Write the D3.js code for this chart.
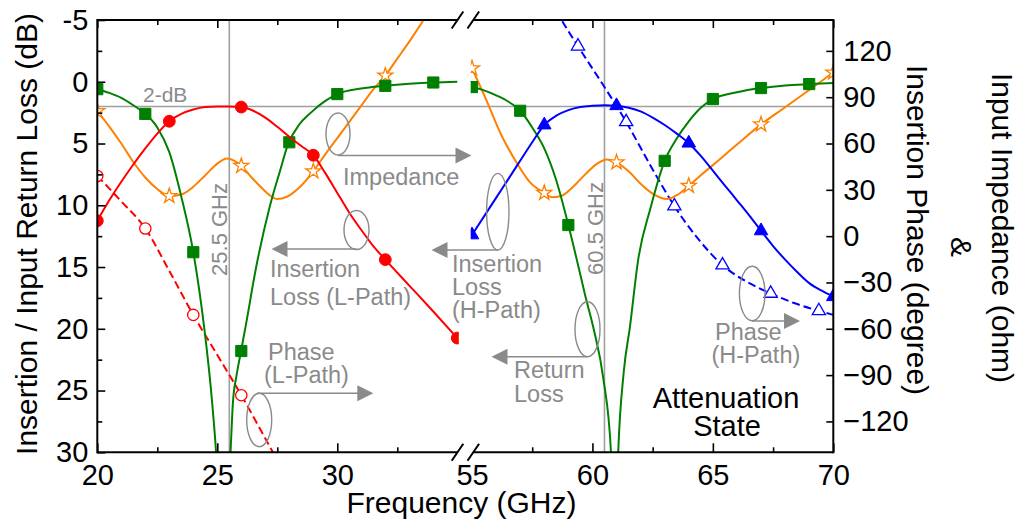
<!DOCTYPE html>
<html><head><meta charset="utf-8">
<script src="https://cdn.jsdelivr.net/npm/d3@7"></script>
<style>
body{margin:0;background:#fff}
svg{display:block}
text{font-family:"Liberation Sans",Arial,sans-serif}
</style>
</head><body>
<svg id="c" width="1018" height="527"></svg>
<script>
// ---------------- DATA ----------------
// Low band (20–35 GHz) — Return loss (dB, left axis)
const rlLoF = [20,20.5,21,21.5,22,22.5,23,23.5,24,24.46,24.74,24.95,25.1,25.25,25.4,25.55,25.65,25.8,25.95,26.2,26.6,27.2,27.6,27.95,28.4,28.9,29.5,30,31,32,33,34,35];
const rlLoV = [0.6,0.9,1.3,1.9,2.6,3.7,5.7,9.3,13.8,20,25,30,35,40,35,30,26,23.8,22.2,19.6,15.2,10,7.3,5.05,3.5,2.5,1.55,1.0,0.55,0.33,0.17,0.06,0.0];
const rlLoMkF = [20,22,24,26,28,30,32,34];
const rlLoMkV = [0.6,2.6,13.8,21.8,4.9,1.0,0.33,0.06];
// Low band — Insertion loss L-path (dB, left axis)
const ilLoF = [20,20.5,21,21.5,22,22.5,23,23.5,24,24.5,25,25.5,26,26.5,27,27.5,28,28.5,29,29.5,30,30.5,31,31.5,32,33,34,35];
const ilLoV = [11.25,9.6,8.1,6.7,5.4,4.2,3.2,2.6,2.25,2.05,2.0,2.0,2.05,2.35,2.9,3.65,4.45,5.2,5.95,7.4,9.0,10.6,12.0,13.3,14.4,16.5,18.6,20.75];
const ilLoMkF = [20,23,26,29,32,35];
const ilLoMkV = [11.25,3.2,2.05,5.95,14.4,20.75];
// Low band — Input impedance (ohm, right axis)
const zLoF = [20,20.5,21,21.5,22,22.5,23,23.5,24,24.5,25,25.4,26,26.4,26.8,27.2,27.5,27.9,28.45,29,29.5,30,30.5,31,31.5,32,32.5,33,33.6,34];
const zLoV = [81,71,60,48,38,30.5,26,27,32,39.5,47,50.3,45.5,38.5,32,26.3,24,25.5,32,42,53,63.5,74,84.5,95,104,115,126,140,149];
const zLoMkF = [20,23,26,29,32];
const zLoMkV = [81,26,45.5,42,104];
// Low band — Insertion phase L-path (degree, right axis)
const phLoF = [20,21,22,23,24,25,26,27,27.6];
const phLoV = [39,22.5,5,-22.5,-51,-77,-103,-131,-148];
const phLoMkF = [20,22,24,26];
const phLoMkV = [39,5,-51,-103];

// High band (55–70 GHz) — Return loss (dB)
const rlHiF = [55,55.5,56,56.5,57,57.5,58,58.5,59,59.35,59.7,60.05,60.45,60.77,60.92,61.07,61.3,61.56,61.9,62.4,63,63.5,64,64.5,65,66,67,68,69,70];
const rlHiV = [0.43,0.7,1.1,1.6,2.35,3.7,5.4,8.0,11.6,14.4,17.3,20,24,30,40,30,23.5,19.8,14.4,10.3,6.4,4.6,3.2,2.1,1.4,0.85,0.51,0.3,0.19,0.1];
const rlHiMkF = [55,57,59,63,65,67,69];
const rlHiMkV = [0.43,2.35,11.6,6.4,1.4,0.51,0.19];
// High band — Insertion loss H-path (dB)
const ilHiF = [55,55.5,56,56.5,57,57.5,58,58.5,59,59.5,60,60.5,61,61.5,62,62.5,63,63.5,64,64.5,65,65.5,66,66.5,67,67.5,68,68.5,69,69.5,70];
const ilHiV = [12.4,10.9,9.4,7.9,6.4,4.9,3.5,2.75,2.3,2.05,1.95,1.9,1.94,2.1,2.4,2.9,3.5,4.2,4.97,6.0,7.2,8.4,9.6,10.8,12.07,13.3,14.4,15.4,16.3,16.9,17.4];
const ilHiMkF = [55,58,61,64,67,70];
const ilHiMkV = [12.4,3.5,1.94,4.97,12.07,17.4];
// High band — Input impedance (ohm)
const zHiF = [55,55.6,56.2,56.8,57.4,58,58.3,58.7,59.2,59.7,60.2,60.6,61,61.5,62,62.5,63.1,63.5,64,64.5,65,66,67,68,69,70];
const zHiV = [108.7,88,66,49,35,28,25.2,26,32,40,47,49.7,47.8,42,34,27.5,24,26.5,32.6,39.5,46,59.3,72.4,83.5,94.7,106];
const zHiMkF = [55,58,61,64,67,70];
const zHiMkV = [108.7,28,47.8,32.6,72.4,106];
// High band — Insertion phase H-path (degree)
const phHiF = [58.5,58.72,59.4,60.4,61.4,62.4,63.4,64.4,65.4,66.4,67.4,68.4,69.4,70];
const phHiV = [146,140,123,99,74,46,19.5,-2,-18.8,-29.5,-37.1,-43.5,-48.4,-51];
const phHiMkF = [59.4,61.4,63.4,65.4,67.4,69.4];
const phHiMkV = [123,74,19.5,-18.8,-37.1,-48.4];

// Axes ticks
const yLeftTicks = d3.range(-5, 30.01, 2.5);
const yRightTicks = [-120,-90,-60,-30,0,30,60,90,120];
const xLoTicks = [20,22.5,25,27.5,30,32.5];
const xHiTicks = [55,57.5,60,62.5,65,67.5,70];

// ---------------- LAYOUT ----------------
const T = 20, B = 452.3, L = 97.3, R = 833.3;
const svg = d3.select("#c");
const xLo = d3.scaleLinear().domain([20,35]).range([97.3,457.3]);
const xHi = d3.scaleLinear().domain([55,70]).range([472,833.3]);
const yL = d3.scaleLinear().domain([-5,30]).range([T,B]);
const yR = d3.scaleLinear().domain([-140,140]).range([B,T]);

const GRAY = "#8a8a8a";
const defs = svg.append("defs");
defs.append("clipPath").attr("id","clipLo").append("rect").attr("x",L).attr("y",T).attr("width",458.8-L).attr("height",B-T);
defs.append("clipPath").attr("id","clipHi").append("rect").attr("x",470.7).attr("y",T).attr("width",R-470.7).attr("height",B-T);

// reference lines
svg.append("line").attr("x1",L).attr("x2",R).attr("y1",yL(2)).attr("y2",yL(2)).attr("stroke","#a0a0a0").attr("stroke-width",1.6);
svg.append("line").attr("x1",xLo(25.5)).attr("x2",xLo(25.5)).attr("y1",T).attr("y2",B).attr("stroke","#a0a0a0").attr("stroke-width",1.6);
svg.append("line").attr("x1",xHi(60.5)).attr("x2",xHi(60.5)).attr("y1",T).attr("y2",B).attr("stroke","#a0a0a0").attr("stroke-width",1.6);

// series
const gLo = svg.append("g").attr("clip-path","url(#clipLo)");
const gHi = svg.append("g").attr("clip-path","url(#clipHi)");

function drawSeries(g, xs, ys, F, V, MF, MV, color, dash, sym, filled, size){
  const pts = F.map((f,i)=>[f,V[i]]);
  g.append("path").datum(pts)
    .attr("fill","none").attr("stroke",color).attr("stroke-width",2)
    .attr("stroke-dasharray",dash||null)
    .attr("d", d3.line().x(d=>xs(d[0])).y(d=>ys(d[1])).curve(d3.curveMonotoneX));
  const mk = MF.map((f,i)=>[f,MV[i]]);
  g.selectAll(null).data(mk).enter().append("path")
    .attr("transform", d=>`translate(${xs(d[0])},${ys(d[1])})`)
    .attr("d", d3.symbol().type(sym).size(size)())
    .attr("fill", filled ? color : "#fff")
    .attr("stroke", color).attr("stroke-width", filled?1:1.3);
}
const GREEN="#008000", RED="#ff0000", ORANGE="#ff8000", BLUE="#0000ff";
// low band
drawSeries(gLo, xLo, yR, phLoF, phLoV, phLoMkF, phLoMkV, RED, "8,4", d3.symbolCircle, false, 100);
drawSeries(gLo, xLo, yR, zLoF, zLoV, zLoMkF, zLoMkV, ORANGE, null, d3.symbolStar, false, 70);
drawSeries(gLo, xLo, yL, rlLoF, rlLoV, rlLoMkF, rlLoMkV, GREEN, null, d3.symbolSquare, true, 125);
drawSeries(gLo, xLo, yL, ilLoF, ilLoV, ilLoMkF, ilLoMkV, RED, null, d3.symbolCircle, true, 110);
// high band
drawSeries(gHi, xHi, yR, phHiF, phHiV, phHiMkF, phHiMkV, BLUE, "8,4", d3.symbolTriangle, false, 75);
drawSeries(gHi, xHi, yR, zHiF, zHiV, zHiMkF, zHiMkV, ORANGE, null, d3.symbolStar, false, 70);
drawSeries(gHi, xHi, yL, rlHiF, rlHiV, rlHiMkF, rlHiMkV, GREEN, null, d3.symbolSquare, true, 125);
drawSeries(gHi, xHi, yL, ilHiF, ilHiV, ilHiMkF, ilHiMkV, BLUE, null, d3.symbolTriangle, true, 80);

// ---------------- AXES ----------------
const FS = 29;
function styleAxis(g){
  g.select(".domain").remove();
  g.selectAll(".tick line").attr("stroke","#000").attr("stroke-width",1.6);
  g.selectAll(".tick text").attr("font-size",FS).attr("fill","#000").attr("font-family",'"Liberation Sans",Arial,sans-serif');
}
const axL = svg.append("g").attr("transform",`translate(${L},0)`)
  .call(d3.axisLeft(yL).tickValues(yLeftTicks).tickSize(-8).tickPadding(9).tickFormat(d=>d%5===0?d:""));
styleAxis(axL);
axL.selectAll(".tick line").attr("x2",d=>d%5===0?8:5);

const axR = svg.append("g").attr("transform",`translate(${R},0)`)
  .call(d3.axisRight(yR).tickValues(yRightTicks).tickSize(-7).tickPadding(10));
styleAxis(axR);

function bottomAxis(x, ticks){
  const g = svg.append("g").attr("transform",`translate(0,${B})`)
    .call(d3.axisBottom(x).tickValues(ticks).tickSize(-9).tickPadding(12).tickFormat(d=>d%5===0?d:""));
  styleAxis(g);
  g.selectAll(".tick line").attr("y2",d=>d===55?0:(d%5===0?-9:-5));
  const t = svg.append("g").attr("transform",`translate(0,${T})`)
    .call(d3.axisTop(x).tickValues(ticks).tickSize(-8).tickFormat(""));
  styleAxis(t);
  t.selectAll(".tick line").attr("y2",d=>d===55?0:(d%5===0?8:5));
}
bottomAxis(xLo, xLoTicks);
bottomAxis(xHi, xHiTicks);

// frame with break
const frame = svg.append("g").attr("stroke","#000").attr("stroke-width",2).attr("fill","none");
frame.append("line").attr("x1",L).attr("x2",L).attr("y1",T-1).attr("y2",B+1);
frame.append("line").attr("x1",R).attr("x2",R).attr("y1",T-1).attr("y2",B+1);
[T,B].forEach(y=>{
  frame.append("line").attr("x1",L).attr("x2",457.5).attr("y1",y).attr("y2",y);
  frame.append("line").attr("x1",473.3).attr("x2",R).attr("y1",y).attr("y2",y);
  [457.5,473.3].forEach(cx=>{
    frame.append("line").attr("x1",cx-5.8).attr("y1",y+8.5).attr("x2",cx+5.8).attr("y2",y-8.5);
  });
});

// ---------------- TITLES ----------------
function txt(x,y,s,opt){
  opt=opt||{};
  const t = svg.append("text").attr("x",x).attr("y",y).text(s)
    .attr("font-size",opt.fs||30).attr("fill",opt.fill||"#000")
    .attr("text-anchor",opt.anchor||"start");
  if(opt.rot!==undefined) t.attr("transform",`rotate(${opt.rot},${x},${y})`);
  return t;
}
txt(461.5,513,"Frequency (GHz)",{anchor:"middle"});
txt(36.7,234,"Insertion / Input Return Loss (dB)",{anchor:"middle",rot:-90});
txt(907,230,"Insertion Phase (degree)",{anchor:"middle",rot:90});
txt(951,247,"&",{anchor:"middle",rot:90});
txt(991.5,228,"Input Impedance (ohm)",{anchor:"middle",rot:90});
txt(726,408,"Attenuation",{anchor:"middle",fs:29});
txt(727,436,"State",{anchor:"middle",fs:29});

// reference labels
txt(143,101.5,"2-dB",{fs:21,fill:GRAY});
txt(227,183,"25.5 GHz",{fs:22,fill:GRAY,anchor:"end",rot:-90});
txt(603,182,"60.5 GHz",{fs:22,fill:GRAY,anchor:"end",rot:-90});

// annotations: ellipse + arrow
const ann = svg.append("g");
function annot(cx,cy,rx,ry,ax,ay,tipX){
  ann.append("ellipse").attr("cx",cx).attr("cy",cy).attr("rx",rx).attr("ry",ry)
    .attr("fill","none").attr("stroke",GRAY).attr("stroke-width",1.4);
  const dir = tipX>ax?1:-1;
  const headL = 16, headH = 8;
  ann.append("line").attr("x1",ax).attr("y1",ay).attr("x2",tipX-dir*headL+dir*1).attr("y2",ay)
    .attr("stroke",GRAY).attr("stroke-width",1.6);
  ann.append("path").attr("d",`M${tipX},${ay}L${tipX-dir*headL},${ay-headH}L${tipX-dir*headL},${ay+headH}Z`)
    .attr("fill",GRAY);
}
annot(338,134,12,21, 338,155.5, 471.5);      // Impedance
annot(356.5,230,12.5,19.5, 356.5,249, 271.5); // IL L-path
annot(497.8,211.7,11.2,38.3, 497.8,250, 431.5); // IL H-path
annot(587.5,329.2,12.5,27.5, 587.5,356.7, 491.5); // Return loss
annot(259.2,420,12.5,26.7, 257,393.3, 373.3); // Phase L-path
annot(752.2,293.5,12.8,27.3, 752,321, 800); // Phase H-path

const AF = 23.5;
txt(343,185,"Impedance",{fs:AF,fill:GRAY});
txt(270,276.5,"Insertion",{fs:AF,fill:GRAY});
txt(270,304.5,"Loss (L-Path)",{fs:AF,fill:GRAY});
txt(452,272,"Insertion",{fs:AF,fill:GRAY});
txt(452,295,"Loss",{fs:AF,fill:GRAY});
txt(452,318,"(H-Path)",{fs:AF,fill:GRAY});
txt(514,378,"Return",{fs:AF,fill:GRAY});
txt(514,401.5,"Loss",{fs:AF,fill:GRAY});
txt(268,360,"Phase",{fs:AF,fill:GRAY});
txt(264,383,"(L-Path)",{fs:AF,fill:GRAY});
txt(715,340,"Phase",{fs:AF,fill:GRAY});
txt(711.5,362.5,"(H-Path)",{fs:AF,fill:GRAY});
</script>
</body></html>
